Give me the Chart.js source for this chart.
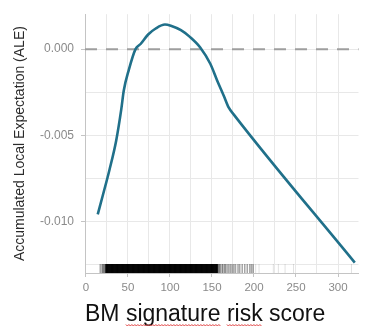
<!DOCTYPE html>
<html>
<head>
<meta charset="utf-8">
<script src="https://cdn.jsdelivr.net/npm/chart.js@4"></script>
<style>
  html, body { margin: 0; padding: 0; background: #fff; }
  #wrap { position: relative; width: 365px; height: 328px; }
</style>
</head>
<body>
<div id="wrap"><canvas id="ale-chart"></canvas></div>
<script>
// ── data ──────────────────────────────────────────────────
const SCORE = [14, 20, 28, 36, 42, 45, 51, 59, 65, 74, 83, 94, 101, 113, 124, 136, 148, 156, 164, 170, 176, 320];
const ALE = [-0.0096, -0.0085, -0.0070, -0.0053, -0.0035, -0.0024, -0.0012, 0.0000, 0.0003, 0.00085, 0.0012, 0.00143,
  0.00136, 0.0011, 0.0007, 0.0001, -0.00085, -0.0018, -0.0027, -0.0034, -0.0038, -0.0124];

// observed scores (rug along the bottom), split by how dark they print
const RUG_DENSE = [
  24, 25, 26, 27, 28, 29, 30, 31, 32, 33, 34, 35, 36, 37, 38, 39, 40, 41, 42, 43, 44, 45, 46, 47, 48, 49,
  50, 51, 52, 53, 54, 55, 56, 57, 58, 59, 60, 61, 62, 63, 64, 65, 66, 67, 68, 69, 70, 71, 72, 73, 74, 75,
  76, 77, 78, 79, 80, 81, 82, 83, 84, 85, 86, 87, 88, 89, 90, 91, 92, 93, 94, 95, 96, 97, 98, 99, 100,
  101, 102, 103, 104, 105, 106, 107, 108, 109, 110, 111, 112, 113, 114, 115, 116, 117, 118, 119, 120,
  121, 122, 123, 124, 125, 126, 127, 128, 129, 130, 131, 132, 133, 134, 135, 136, 137, 138, 139, 140,
  141, 142, 143, 144, 145, 146, 147, 148, 149, 150, 151, 152, 153, 154, 155, 156,
];
const RUG_EDGE = [
  17, 19, 20, 21, 22, 23,
  157, 158, 159, 160, 162, 163, 165, 166, 168, 170, 172, 174, 176, 178, 181, 183, 186, 189, 192, 195, 197, 199,
];
const RUG_SPARSE = [202, 206, 223, 229, 237, 247, 316];
const RUG_LEVEL = -0.01274;

const X_TICKS = [0, 25, 50, 75, 100, 125, 150, 175, 200, 225, 250, 275, 300];
const Y_TICKS = [-0.0125, -0.01, -0.0075, -0.005, -0.0025, 0];
const ZERO_LINE = 0;

const X_TITLE = 'BM signature risk score';
const Y_TITLE = 'Accumulated Local Expectation (ALE)';
const MISSPELT = ['signature', 'risk'];

// ── helpers ───────────────────────────────────────────────
const isMajor = (v, step) => Math.abs(Math.round(v / step) * step - v) < 1e-9;
const SANS = 'Liberation Sans, Arial, sans-serif';
const TITLE_FONT = { family: SANS, size: 23 };

function rugDataset(values, color, width) {
  return {
    data: values.map(s => ({ x: s, y: RUG_LEVEL })),
    pointStyle: 'line',
    rotation: 90,
    radius: 4.5,
    borderColor: color,
    borderWidth: width,
    backgroundColor: 'rgba(0,0,0,0)',
    order: 1,
  };
}

// dashed reference line at ALE = 0
const zeroLine = {
  id: 'zeroLine',
  beforeDatasetsDraw(chart) {
    const { ctx, chartArea, scales } = chart;
    const y = scales.y.getPixelForValue(ZERO_LINE);
    ctx.save();
    ctx.strokeStyle = '#9e9e9e';
    ctx.lineWidth = 2;
    ctx.setLineDash([12, 9]);
    ctx.beginPath();
    ctx.moveTo(chartArea.left, y);
    ctx.lineTo(chartArea.right, y);
    ctx.stroke();
    ctx.restore();
  },
};

// red spell-check squiggles under the x title words
const squiggle = {
  id: 'squiggle',
  afterDraw(chart) {
    const { ctx, scales } = chart;
    ctx.save();
    ctx.font = `${TITLE_FONT.size}px ${TITLE_FONT.family}`;
    ctx.strokeStyle = '#e04040';
    ctx.lineWidth = 1;
    const x0 = scales.x.left;
    MISSPELT.forEach(word => {
      const idx = X_TITLE.indexOf(word);
      const start = x0 + ctx.measureText(X_TITLE.slice(0, idx)).width;
      const end = start + ctx.measureText(word).width;
      const base = 325;
      ctx.beginPath();
      for (let x = start, k = 0; x <= end; x += 1.5, k++) {
        const y = base + (k % 2 ? 1 : -0.5);
        if (k === 0) ctx.moveTo(x, y); else ctx.lineTo(x, y);
      }
      ctx.stroke();
    });
    ctx.restore();
  },
};

new Chart(document.getElementById('ale-chart'), {
  type: 'scatter',
  data: {
    datasets: [
      {
        label: 'ALE',
        type: 'line',
        data: SCORE.map((s, i) => ({ x: s, y: ALE[i] })),
        borderColor: '#20708a',
        borderWidth: 2.6,
        pointRadius: 0,
        fill: false,
        cubicInterpolationMode: 'monotone',
        order: 0,
      },
      rugDataset(RUG_DENSE, 'rgba(0,0,0,0.85)', 2),
      rugDataset(RUG_EDGE, 'rgba(0,0,0,0.35)', 1.5),
      rugDataset(RUG_SPARSE, 'rgba(0,0,0,0.12)', 1),
    ],
  },
  options: {
    responsive: true,
    maintainAspectRatio: false,
    animation: false,
    layout: { padding: { left: 0, top: 7, right: 0, bottom: 0 } },
    plugins: {
      legend: { display: false },
      tooltip: { enabled: false },
    },
    scales: {
      x: {
        type: 'linear',
        min: -1.16,
        max: 324.4,
        afterBuildTicks: s => { s.ticks = X_TICKS.map(v => ({ value: v })); },
        afterFit: s => { s.height = 55; },
        border: { display: true, color: '#c4c4c4', width: 1 },
        grid: {
          color: '#e8e8e8',
          lineWidth: 1,
          tickLength: 4,
          tickColor: c => (isMajor(c.tick.value, 50) ? '#c4c4c4' : 'rgba(0,0,0,0)'),
        },
        ticks: {
          color: '#8a8a8a',
          font: { family: SANS, size: 11.5 },
          padding: 4,
          maxRotation: 0,
          autoSkip: false,
          callback: v => (isMajor(v, 50) ? String(v) : ''),
        },
        title: {
          display: true,
          text: X_TITLE,
          align: 'start',
          color: '#111',
          font: TITLE_FONT,
          padding: { top: 0, bottom: 0 },
        },
      },
      y: {
        type: 'linear',
        min: -0.013,
        max: 0.00203,
        afterBuildTicks: s => { s.ticks = Y_TICKS.map(v => ({ value: v })); },
        afterFit: s => { s.width = 85; },
        border: { display: true, color: '#c4c4c4', width: 1 },
        grid: {
          color: '#e8e8e8',
          lineWidth: 1,
          tickLength: 4,
          tickColor: c => (isMajor(c.tick.value, 0.005) ? '#c4c4c4' : 'rgba(0,0,0,0)'),
        },
        ticks: {
          color: '#8a8a8a',
          font: { family: SANS, size: 12 },
          padding: 7,
          autoSkip: false,
          callback: v => (isMajor(v, 0.005) ? v.toFixed(3) : ''),
        },
        title: {
          display: true,
          text: Y_TITLE,
          color: '#2b2b2b',
          font: { family: SANS, size: 14 },
          padding: { top: 12, bottom: 0 },
        },
      },
    },
  },
  plugins: [zeroLine, squiggle],
});
</script>
</body>
</html>
